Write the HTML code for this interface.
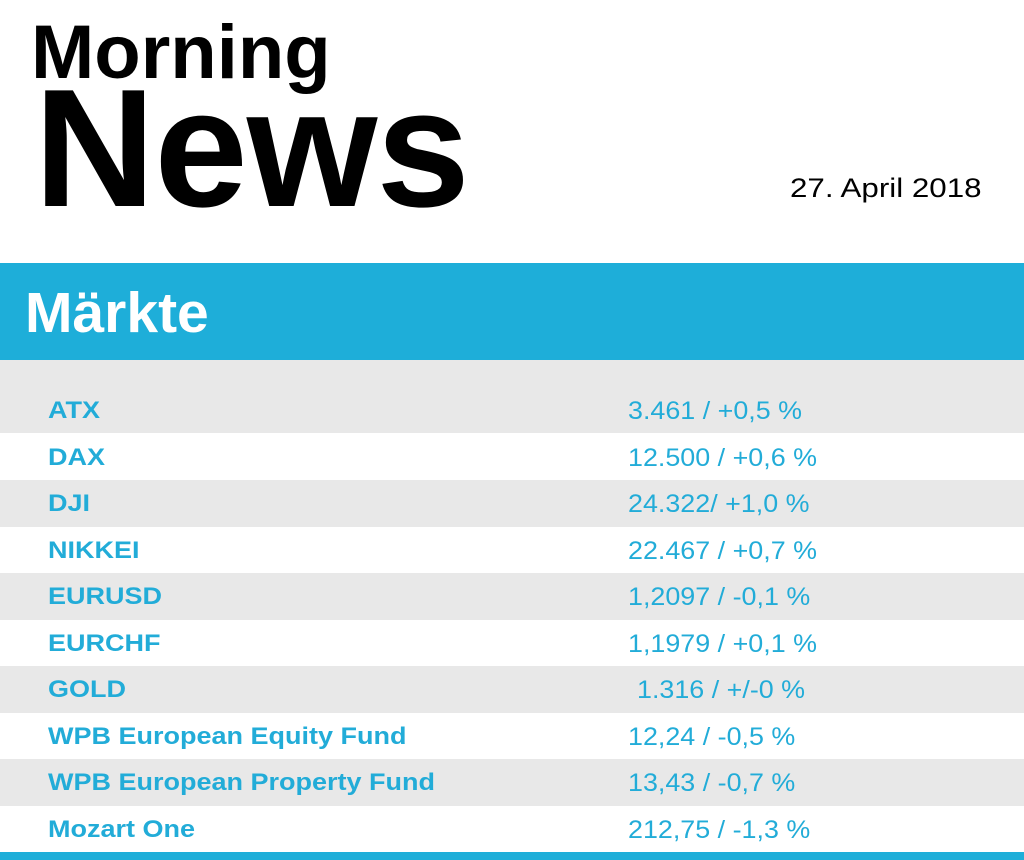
<!DOCTYPE html>
<html><head><meta charset="utf-8"><style>
body{margin:0;width:1024px;height:860px;overflow:hidden;background:#fff;font-family:"Liberation Sans",Arial,sans-serif;position:relative}
.a{position:absolute;white-space:nowrap;line-height:1}
.r{position:absolute;left:0;width:1024px;height:46.6px}
.g{background:#e8e8e8}
.n{position:absolute;left:48px;font-weight:bold;font-size:24px;color:#22acd8;line-height:1;transform:scaleX(1.125);transform-origin:0 0}
.v{position:absolute;left:628px;font-size:25px;color:#22acd8;line-height:1;transform:scaleX(1.075);transform-origin:0 0}
</style></head><body>
<div class="a" style="left:31px;top:15px;font-size:76px;font-weight:bold;color:#000">Morning</div>
<div class="a" style="left:34px;top:64px;font-size:168px;font-weight:bold;color:#000;letter-spacing:-1px">News</div>
<div class="a" style="left:790px;top:175px;font-size:27px;color:#000;transform:scaleX(1.16);transform-origin:0 0">27. April 2018</div>
<div class="a" style="left:0;top:263px;width:1024px;height:97px;background:#1eaed9"></div>
<div class="a" style="left:25px;top:285px;font-size:57px;font-weight:bold;color:#fff">Märkte</div>
<div class="r g" style="top:360px;height:73px"></div>
<div class="r g" style="top:480px"></div>
<div class="r g" style="top:573px"></div>
<div class="r g" style="top:666px"></div>
<div class="r g" style="top:759px"></div>
<div class="a" style="left:0;top:852px;width:1024px;height:8px;background:#1eaed9"></div>
<div class="n" style="top:399px">ATX</div><div class="v" style="top:399px">3.461 / +0,5 %</div>
<div class="n" style="top:446px">DAX</div><div class="v" style="top:446px">12.500 / +0,6 %</div>
<div class="n" style="top:492px">DJI</div><div class="v" style="top:492px">24.322/ +1,0 %</div>
<div class="n" style="top:539px">NIKKEI</div><div class="v" style="top:539px">22.467 / +0,7 %</div>
<div class="n" style="top:585px">EURUSD</div><div class="v" style="top:585px">1,2097 / -0,1 %</div>
<div class="n" style="top:632px">EURCHF</div><div class="v" style="top:632px">1,1979 / +0,1 %</div>
<div class="n" style="top:678px">GOLD</div><div class="v" style="top:678px;left:637px">1.316 / +/-0 %</div>
<div class="n" style="top:725px">WPB European Equity Fund</div><div class="v" style="top:725px">12,24 / -0,5 %</div>
<div class="n" style="top:771px">WPB European Property Fund</div><div class="v" style="top:771px">13,43 / -0,7 %</div>
<div class="n" style="top:818px">Mozart One</div><div class="v" style="top:818px">212,75 / -1,3 %</div>
</body></html>
